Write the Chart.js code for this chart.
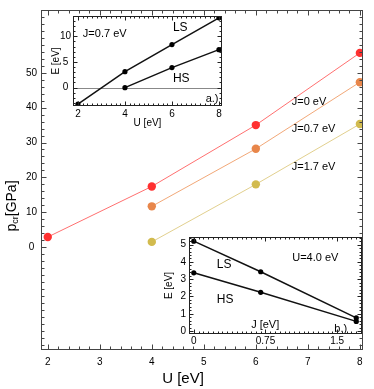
<!DOCTYPE html>
<html lang="en">
<head>
<meta charset="UTF-8">
<title>Critical pressure vs U</title>
<script src="https://cdn.jsdelivr.net/npm/chart.js"></script>
<style>
    body { margin: 0; background: #fff; }
    #wrap { position: relative; width: 374px; height: 389px; }
    #wrap canvas { position: absolute; }
</style>
</head>
<body>
<div id="wrap">
    <canvas id="mainChart" width="374" height="389" style="left:0;top:0"></canvas>
    <canvas id="insetA" width="178" height="122" style="left:48px;top:8px"></canvas>
    <canvas id="insetB" width="206" height="120" style="left:160px;top:228px"></canvas>
</div>
<script>
    // main panel: critical pressure vs U for three J values
    const uValues = [2, 4, 6, 8];
    const pJ0 = [2.9, 17.4, 35.0, 55.7];
    const pJ07 = [null, 11.7, 28.2, 47.3];
    const pJ17 = [null, 1.5, 18.0, 35.3];
    const mainXTicks = [2, 3, 4, 5, 6, 7, 8];
    const mainYTicks = [0, 10, 20, 30, 40, 50];

    // inset a.): energy vs U at J=0.7 eV
    const insetAU = [2, 4, 6, 8];
    const insetALS = [-3.2, 3.1, 8.4, 13.6];
    const insetAHS = [null, 0, 3.9, 7.4];
    const insetAXTicks = [2, 4, 6, 8];
    const insetAYTicks = [0, 5, 10];

    // inset b.): energy vs J at U=4.0 eV
    const insetBJ = [0, 0.7, 1.7];
    const insetBLS = [5.2, 3.43, 0.76];
    const insetBHS = [3.37, 2.24, 0.56];
    const insetBXTicks = [0, 0.75, 1.5];
    const insetBYTicks = [0, 1, 2, 3, 4, 5];

    const FONT = '"Liberation Sans", Arial, sans-serif';

    function toPoints(xs, ys) {
        return xs.map((x, i) => ({ x: x, y: ys[i] })).filter(p => p.y !== null);
    }

    // white plot area, zero line, frame with inward ticks on all four sides
    const frameTicks = {
        id: 'frameTicks',
        beforeDraw(chart, args, o) {
            const { ctx, chartArea: a, scales: { y } } = chart;
            ctx.save();
            ctx.fillStyle = '#fff';
            ctx.fillRect(a.left, a.top, a.width, a.height);
            if (o.zeroLine) {
                const py = Math.round(y.getPixelForValue(0)) + 0.5;
                ctx.strokeStyle = '#888';
                ctx.lineWidth = 1;
                ctx.beginPath();
                ctx.moveTo(a.left, py);
                ctx.lineTo(a.right, py);
                ctx.stroke();
            }
            ctx.restore();
        },
        afterDraw(chart, args, o) {
            const { ctx, chartArea: a, scales: { x, y } } = chart;
            const L = Math.round(a.left) + 0.5, R = Math.round(a.right) - 0.5;
            const T = Math.round(a.top) + 0.5, B = Math.round(a.bottom) - 0.5;
            ctx.save();
            ctx.strokeStyle = o.color;
            ctx.lineWidth = 1;
            ctx.beginPath();
            const vx = (v, len) => {
                const px = Math.round(x.getPixelForValue(v)) + 0.5;
                ctx.moveTo(px, B); ctx.lineTo(px, B - len);
                ctx.moveTo(px, T); ctx.lineTo(px, T + len);
            };
            const hy = (v, len) => {
                const py = Math.round(y.getPixelForValue(v)) + 0.5;
                ctx.moveTo(L, py); ctx.lineTo(L + len, py);
                ctx.moveTo(R, py); ctx.lineTo(R - len, py);
            };
            const minor = (scale, step, fn) => {
                for (let i = Math.ceil(scale.min / step - 1e-9); i * step <= scale.max + 1e-9; i++) {
                    fn(i * step, o.minorLen);
                }
            };
            minor(x, o.xMinor, vx);
            minor(y, o.yMinor, hy);
            x.ticks.forEach(t => vx(t.value, o.majorLen));
            y.ticks.forEach(t => hy(t.value, o.majorLen));
            ctx.stroke();
            ctx.strokeRect(L, T, R - L, B - T);
            ctx.restore();
        }
    };

    // text labels placed in data coordinates
    const textMarks = {
        id: 'textMarks',
        afterDatasetsDraw(chart, args, o) {
            const { ctx, scales: { x, y } } = chart;
            ctx.save();
            ctx.fillStyle = '#000';
            ctx.textBaseline = 'middle';
            (o.items || []).forEach(t => {
                ctx.font = t.size + 'px ' + FONT;
                ctx.textAlign = t.align || 'left';
                ctx.fillText(t.text, x.getPixelForValue(t.x), y.getPixelForValue(t.y));
            });
            ctx.restore();
        }
    };

    // main axis titles (p_cr with subscript)
    const mainTitles = {
        id: 'mainTitles',
        afterDraw(chart) {
            const ctx = chart.ctx;
            ctx.save();
            ctx.fillStyle = '#000';
            ctx.textBaseline = 'middle';
            ctx.textAlign = 'center';
            ctx.font = '15px ' + FONT;
            ctx.fillText('U [eV]', 183, 379);

            ctx.translate(12, 206);
            ctx.rotate(-Math.PI / 2);
            ctx.textAlign = 'left';
            ctx.font = '14px ' + FONT;
            const wp = ctx.measureText('p').width;
            const wg = ctx.measureText('[GPa]').width;
            ctx.font = '9px ' + FONT;
            const wc = ctx.measureText('cr').width;
            let cx = -(wp + wc + wg) / 2;
            ctx.font = '14px ' + FONT;
            ctx.fillText('p', cx, 0);
            cx += wp;
            ctx.font = '9px ' + FONT;
            ctx.fillText('cr', cx, 4);
            cx += wc;
            ctx.font = '14px ' + FONT;
            ctx.fillText('[GPa]', cx, 0);
            ctx.restore();
        }
    };

    function fixedTicks(values) {
        return s => { s.ticks = values.map(v => ({ value: v })); };
    }

    function tickOpts(size, extra) {
        return Object.assign({
            color: '#000',
            font: { family: FONT, size: size },
            callback: v => String(v)
        }, extra);
    }

    function axis(min, max, tickValues, extra) {
        return Object.assign({
            type: 'linear',
            min: min,
            max: max,
            grid: { display: false, drawTicks: false },
            border: { display: false },
            afterBuildTicks: fixedTicks(tickValues)
        }, extra);
    }

    function series(xs, ys, line, point, radius, width) {
        return {
            data: toPoints(xs, ys),
            showLine: true,
            borderColor: line,
            borderWidth: width,
            backgroundColor: point,
            pointBackgroundColor: point,
            pointBorderWidth: 0,
            pointRadius: radius
        };
    }

    // main chart
    new Chart(document.getElementById('mainChart'), {
        type: 'scatter',
        data: {
            datasets: [
                series(uValues, pJ0, '#ff7070', '#ff3030', 4.2, 1),
                series(uValues, pJ07, '#f2a878', '#e8864a', 4.2, 1),
                series(uValues, pJ17, '#e2d08e', '#d2bb4e', 4.2, 1)
            ]
        },
        options: {
            responsive: false,
            animation: false,
            layout: { padding: { top: 7, right: 11, left: 0, bottom: 0 } },
            plugins: {
                legend: { display: false },
                tooltip: { enabled: false },
                frameTicks: { color: '#444', xMinor: 0.2, yMinor: 2, majorLen: 5, minorLen: 3 },
                textMarks: {
                    items: [
                        { text: 'J=0 eV', x: 6.69, y: 41.5, size: 11 },
                        { text: 'J=0.7 eV', x: 6.69, y: 33.8, size: 11 },
                        { text: 'J=1.7 eV', x: 6.69, y: 23.0, size: 11 }
                    ]
                }
            },
            scales: {
                x: axis(1.87, 8.06, mainXTicks, {
                    afterFit: s => { s.height = 39; },
                    ticks: tickOpts(10, { padding: 6 })
                }),
                y: axis(-29.5, 68, mainYTicks, {
                    afterFit: s => { s.width = 41; },
                    ticks: tickOpts(10, { padding: 4, crossAlign: 'center' })
                })
            }
        },
        plugins: [frameTicks, textMarks, mainTitles]
    });

    // inset a.)
    new Chart(document.getElementById('insetA'), {
        type: 'scatter',
        data: {
            datasets: [
                series(insetAU, insetALS, '#111', '#000', 2.6, 1.5),
                series(insetAU, insetAHS, '#111', '#000', 2.6, 1.5)
            ]
        },
        options: {
            responsive: false,
            animation: false,
            layout: { padding: { top: 5, right: 4, left: 0, bottom: 0 } },
            plugins: {
                legend: { display: false },
                tooltip: { enabled: false },
                frameTicks: { color: '#222', xMinor: 0.2, yMinor: 1, majorLen: 4, minorLen: 2, zeroLine: true },
                textMarks: {
                    items: [
                        { text: 'J=0.7 eV', x: 2.21, y: 10.4, size: 11 },
                        { text: 'LS', x: 6.04, y: 11.7, size: 12 },
                        { text: 'HS', x: 6.04, y: 1.7, size: 12 },
                        { text: 'a.)', x: 7.98, y: -2.26, size: 11, align: 'right' }
                    ]
                }
            },
            scales: {
                x: axis(1.79, 8.13, insetAXTicks, {
                    afterFit: s => { s.height = 24; },
                    ticks: tickOpts(10, { padding: 2 }),
                    title: { display: true, text: 'U [eV]', color: '#000', font: { family: FONT, size: 10 }, padding: { top: 0, bottom: 1 } }
                }),
                y: axis(-3.58, 13.96, insetAYTicks, {
                    afterFit: s => { s.width = 25; },
                    ticks: tickOpts(10, { padding: 2, crossAlign: 'center' }),
                    title: { display: true, text: 'E [eV]', color: '#000', font: { family: FONT, size: 10 }, padding: { top: 2, bottom: 0 } }
                })
            }
        },
        plugins: [frameTicks, textMarks]
    });

    // inset b.)
    new Chart(document.getElementById('insetB'), {
        type: 'scatter',
        data: {
            datasets: [
                series(insetBJ, insetBLS, '#111', '#000', 2.6, 1.5),
                series(insetBJ, insetBHS, '#111', '#000', 2.6, 1.5)
            ]
        },
        options: {
            responsive: false,
            animation: false,
            layout: { padding: { top: 5, right: 4, left: 0, bottom: 0 } },
            plugins: {
                legend: { display: false },
                tooltip: { enabled: false },
                frameTicks: { color: '#222', xMinor: 0.05, yMinor: 0.2, majorLen: 4, minorLen: 2 },
                textMarks: {
                    items: [
                        { text: 'LS', x: 0.24, y: 3.83, size: 12 },
                        { text: 'HS', x: 0.24, y: 1.83, size: 12 },
                        { text: 'U=4.0 eV', x: 1.03, y: 4.25, size: 11 },
                        { text: 'J [eV]', x: 0.60, y: 0.33, size: 11 },
                        { text: 'b.)', x: 1.47, y: 0.14, size: 11 }
                    ]
                }
            },
            scales: {
                x: axis(-0.05, 1.76, insetBXTicks, {
                    afterFit: s => { s.height = 14; },
                    ticks: tickOpts(10, { padding: 1 })
                }),
                y: axis(-0.17, 5.44, insetBYTicks, {
                    afterFit: s => { s.width = 29; },
                    ticks: tickOpts(10, { padding: 3, crossAlign: 'center' }),
                    title: { display: true, text: 'E [eV]', color: '#000', font: { family: FONT, size: 10 }, padding: { top: 3, bottom: 0 } }
                })
            }
        },
        plugins: [frameTicks, textMarks]
    });
</script>
</body>
</html>
